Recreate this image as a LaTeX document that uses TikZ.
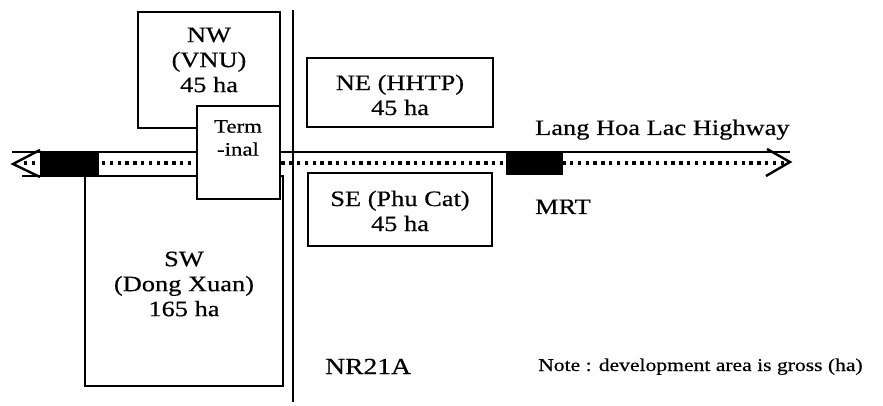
\documentclass[tikz,border=0pt]{standalone}
\usepackage{fontspec}
\setmainfont{Liberation Serif}[FakeStretch=1.2, FakeBold=0.5]
\begin{document}
\begin{tikzpicture}[x=1pt,y=-1pt,
  parcel/.style={draw, line width=1.3pt, fill=white},
  blk/.style={fill=black},
  lbl/.style={font=\fontsize{22}{25}\selectfont, align=center, inner sep=0pt},
  tag/.style={font=\fontsize{22}{25}\selectfont, anchor=base west, inner sep=0pt},
  edge/.style={line width=1.3pt},
  centreline/.style={line width=3.4pt, dash pattern=on 3.4pt off 4.4pt},
  tip/.style={line width=2.4pt, line join=miter}]
\useasboundingbox (0,0) rectangle (883,406);

% road edges
\coordinate (rtl) at (12,152);
\coordinate (rtr) at (790,152);
\coordinate (rbl) at (22,176);
\coordinate (rbr) at (85,176);
\draw[edge] (rtl) -- (rtr);
\draw[edge] (rbl) -- (rbr);

% dotted centre line of the highway
\coordinate (cl) at (24,163);
\coordinate (cr) at (784,163);
\draw[centreline] (cl) -- (cr);

% MRT stations
\fill[blk] (40,151) rectangle (99,176);
\fill[blk] (506,151) rectangle (563,175);

% open arrow ends
\coordinate (la) at (13,164);
\coordinate (ra) at (790,162);
\draw[tip] (40,150) -- (la) -- (40,177);
\draw[tip] (767,149) -- (ra) -- (766,176);

% NR21A road
\coordinate (nt) at (293,10);
\coordinate (nb) at (293,402);
\draw[edge] (nt) -- (nb);

% development parcels
\node[parcel, minimum width=142pt, minimum height=116pt] (nw) at (209,70) {};
\node[parcel, minimum width=198pt, minimum height=210pt] (sw) at (184,281) {};
\node[parcel, minimum width=186pt, minimum height=69pt] (ne) at (400,92.5) {};
\node[parcel, minimum width=184pt, minimum height=73pt] (se) at (400,209.5) {};
\node[parcel, minimum width=83pt, minimum height=93pt] (term) at (238.5,152.5) {};

% parcel labels
\node[lbl] (nwt) at (209,60) {NW\\(VNU)\\45 ha};
\node[lbl] (swt) at (184,284) {SW\\(Dong Xuan)\\165 ha};
\node[lbl] (net) at (400,95) {NE (HHTP)\\45 ha};
\node[lbl] (set) at (400,211) {SE (Phu Cat)\\45 ha};
\node[lbl, font=\fontsize{19}{23}\selectfont] (termt) at (238,138) {Term\\-inal};

% road names and note
\node[tag] (hwy) at (535,135) {Lang Hoa Lac Highway};
\node[tag] (mrt) at (535,214) {MRT};
\node[tag, font=\fontsize{23}{26}\selectfont] (nr) at (325,374) {NR21A};
\node[tag, font=\fontsize{18}{21}\selectfont] (note) at (538,371) {Note : development area is gross (ha)};
\end{tikzpicture}
\end{document}
